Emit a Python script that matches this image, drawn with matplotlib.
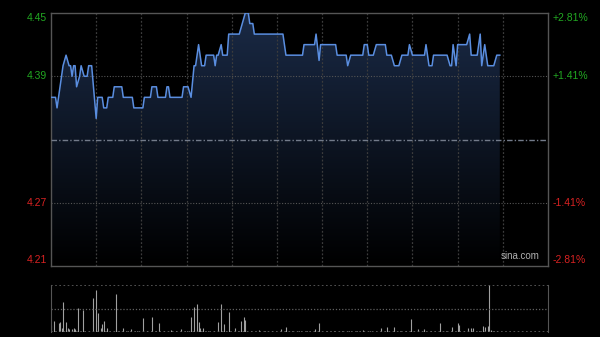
import matplotlib
matplotlib.use("Agg")
import matplotlib.pyplot as plt
from matplotlib.colors import LinearSegmentedColormap
import numpy as np

plt.rcParams['font.family'] = ['Liberation Sans', 'DejaVu Sans']

# intraday price, minutes from open (330 minute session)
times = [0, 3, 4, 8, 10, 12, 13, 14, 15, 16, 17, 19, 20, 22, 24, 25, 27, 30, 31, 34,
         35, 37, 38, 41, 42, 47, 48, 54, 55, 61, 62, 66, 67, 70, 71, 76, 77, 78, 79, 87,
         88, 91, 93, 95, 96, 98, 100, 102, 103, 108, 109, 110, 111, 113, 114, 117, 118, 125, 127, 129,
         131, 132, 134, 135, 154, 156, 167, 168, 175, 176, 178, 179, 189, 190, 196, 197, 199, 207, 208, 210,
         211, 214, 216, 222, 223, 226, 228, 231, 233, 237, 238, 240, 248, 249, 251, 253, 254, 263, 265, 266,
         267, 269, 270, 276, 278, 279, 283, 285, 286, 288, 290, 294, 296, 298]
prices = [4.37, 4.37, 4.36, 4.40, 4.41, 4.40, 4.40, 4.39, 4.40, 4.40, 4.38, 4.39, 4.40, 4.39, 4.39, 4.40, 4.40, 4.35, 4.37, 4.37,
          4.36, 4.36, 4.37, 4.37, 4.38, 4.38, 4.37, 4.37, 4.36, 4.36, 4.37, 4.37, 4.38, 4.38, 4.37, 4.37, 4.38, 4.38, 4.37, 4.37,
          4.38, 4.38, 4.37, 4.40, 4.40, 4.42, 4.40, 4.40, 4.41, 4.41, 4.40, 4.41, 4.41, 4.42, 4.41, 4.41, 4.43, 4.43, 4.44, 4.45,
          4.45, 4.44, 4.44, 4.43, 4.43, 4.41, 4.41, 4.42, 4.42, 4.43, 4.405, 4.42, 4.42, 4.41, 4.41, 4.40, 4.41, 4.41, 4.42, 4.42,
          4.41, 4.41, 4.42, 4.42, 4.41, 4.41, 4.40, 4.40, 4.41, 4.41, 4.42, 4.41, 4.41, 4.42, 4.40, 4.40, 4.41, 4.41, 4.40, 4.40,
          4.42, 4.40, 4.42, 4.42, 4.43, 4.41, 4.41, 4.43, 4.40, 4.42, 4.40, 4.40, 4.41, 4.41]

prev_close = 4.33
left_ticks = [4.45, 4.39, 4.27, 4.21]
right_labels = ['+2.81%', '+1.41%', '-1.41%', '-2.81%']

# volume bars (minute, height)
vol_minutes = [0, 2, 5, 6, 7, 8, 10, 11, 12, 14, 15, 16, 18, 21, 28, 30, 31, 33, 34, 35,
               37, 43, 45, 48, 51, 53, 57, 61, 64, 67, 70, 72, 75, 80, 83, 86, 90, 93, 95, 97,
               98, 99, 101, 104, 108, 111, 113, 115, 118, 122, 124, 126, 128, 129, 133, 138, 142, 147, 153, 156,
               160, 165, 170, 175, 178, 183, 188, 193, 198, 203, 207, 212, 219, 223, 228, 232, 236, 239, 244, 248,
               252, 258, 262, 266, 270, 271, 274, 277, 279, 280, 284, 287, 288, 290, 291, 292, 294, 296]
vol_values = [6.7, 10.7, 9.3, 10, 4, 30, 10, 4, 3, 3, 4, 3, 24, 22, 34, 42, 19, 4, 8, 11,
              4, 38, 1.5, 4, 1.5, 3, 1.5, 14, 1.5, 15, 1.5, 9, 1.5, 2, 1.5, 3, 1.5, 15, 25, 28,
              10, 4, 4, 1.5, 1.5, 10.5, 28.5, 8.5, 20, 4, 1.5, 11.5, 15, 12.5, 1.5, 2, 1.5, 1.5, 3.5, 5.5,
              1.5, 1.5, 1.5, 2.7, 9.3, 1.5, 1.5, 1.3, 1.5, 1.5, 2, 1.5, 3.7, 5.3, 4.7, 1.5, 1.5, 13, 2.7, 2.7,
              1.5, 9.3, 1.5, 5.3, 9.3, 7, 1.5, 3.7, 3.7, 3.7, 1.5, 6.3, 5.3, 6, 47, 2, 1.5, 1.5]

fig = plt.figure(figsize=(6, 3.37), dpi=100, facecolor='black')
ax = fig.add_axes([0.085, 0.2107, 0.8283, 0.7507], facecolor='black')
axv = fig.add_axes([0.085, 0.0148, 0.8283, 0.1395], facecolor='black')

# gradient fill under the price line
cmap = LinearSegmentedColormap.from_list('fill', ['#000000', '#0d1523', '#1a2a46'])
grad = np.linspace(0, 1, 256).reshape(-1, 1)
poly = ax.fill_between(times, prices, 4.21, color='none', lw=0)
im = ax.imshow(grad, extent=[0, 330, 4.21, 4.45], aspect='auto', origin='lower',
               cmap=cmap, zorder=1)
im.set_clip_path(poly.get_paths()[0], transform=ax.transData)
ax.plot(times, prices, color='#5a8ee0', lw=1.1, zorder=4)

# grid
for t in range(30, 330, 30):
    ax.axvline(t, color='#3c3c3c', lw=0.9, ls=(0, (1.5, 1.5)), zorder=2)
for p in [4.39, 4.27]:
    ax.axhline(p, color='#555555', lw=0.8, ls=(0, (1, 1.5)), zorder=2)
ax.axhline(prev_close, color='#737b8a', lw=1.0, ls=(0, (4, 1.5, 1, 1.5)), zorder=3)

ax.set_xlim(0, 330)
ax.set_ylim(4.21, 4.45)
ax.set_xticks([])
ax.set_yticks([])
for s in ax.spines.values():
    s.set_color('#555555')
    s.set_linewidth(1)

label_y = [4.445, 4.39, 4.27, 4.216]
colors = ['#22a822', '#22a822', '#d82222', '#d82222']
for y, v, r, c in zip(label_y, left_ticks, right_labels, colors):
    ax.text(-0.008, y, f'{v:.2f}', transform=ax.get_yaxis_transform(), ha='right',
            va='center', color=c, fontsize=7.5)
    ax.text(1.01, y, r, transform=ax.get_yaxis_transform(), ha='left',
            va='center', color=c, fontsize=7.5)

ax.text(0.983, 0.018, 'sina.com', transform=ax.transAxes, ha='right', va='bottom',
        color='#b0b0b0', fontsize=7)

# volume panel
axv.vlines(vol_minutes, 0, vol_values, color='#a0a0a0', lw=0.8)
axv.axhline(23.5, color='#606060', lw=0.9, ls=(0, (1, 1.5)))
axv.axhline(47, color='#606060', lw=1.2, ls=(0, (1, 1.5)))
axv.axhline(0, color='#606060', lw=1.2, ls=(0, (1, 1.5)))
axv.set_xlim(0, 330)
axv.set_ylim(0, 47)
axv.set_xticks([])
axv.set_yticks([])
for k, s in axv.spines.items():
    if k in ('top', 'bottom'):
        s.set_visible(False)
    else:
        s.set_color('#555555')

fig.savefig('out.png', dpi=100, facecolor='black')
